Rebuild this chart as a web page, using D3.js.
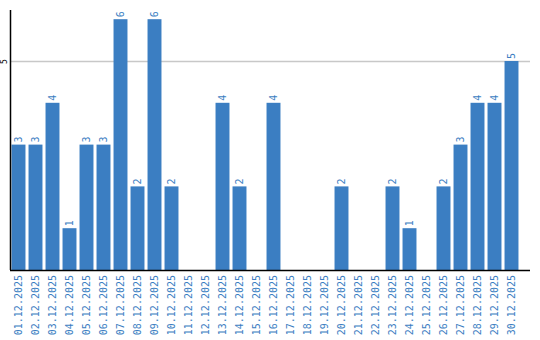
<!DOCTYPE html>
<html>
<head>
<meta charset="utf-8">
<script src="https://cdn.jsdelivr.net/npm/d3@7"></script>
<style>
  body { margin: 0; background: #fff; }
  svg text { font-family: "DejaVu Sans Mono", monospace; }
</style>
</head>
<body>
<div id="chart"></div>
<script>
var dates = ["01.12.2025", "02.12.2025", "03.12.2025", "04.12.2025", "05.12.2025",
	"06.12.2025", "07.12.2025", "08.12.2025", "09.12.2025", "10.12.2025",
	"11.12.2025", "12.12.2025", "13.12.2025", "14.12.2025", "15.12.2025",
	"16.12.2025", "17.12.2025", "18.12.2025", "19.12.2025", "20.12.2025",
	"21.12.2025", "22.12.2025", "23.12.2025", "24.12.2025", "25.12.2025",
	"26.12.2025", "27.12.2025", "28.12.2025", "29.12.2025", "30.12.2025"];
var counts = [3, 3, 4, 1, 3, 3, 6, 2, 6, 2, 0, 0, 4, 2, 0, 4, 0, 0, 0, 2, 0, 0, 2, 1, 0, 2, 3, 4, 4, 5];
var yTicks = [5];

var width = 540, height = 340;
var plotLeft = 10, plotRight = 530, plotTop = 10, plotBottom = 270;
var blue = "#3b7ec2";

var data = dates.map(function (d, i) {
	return { date: d, value: counts[i] };
});

var x = d3.scaleBand()
	.domain(dates)
	.range([plotLeft, plotLeft + 17 * dates.length])
	.paddingInner(0.18)
	.paddingOuter(0.09);

var y = d3.scaleLinear()
	.domain([0, 6.22])
	.range([plotBottom, plotTop]);

var svg = d3.select("#chart")
	.append("svg")
	.attr("width", width)
	.attr("height", height);

// grid line
svg.selectAll("line.grid")
	.data(yTicks)
	.enter().append("line")
	.attr("class", "grid")
	.attr("x1", plotLeft).attr("x2", plotRight)
	.attr("y1", function (d) { return Math.round(y(d)) + 0.5; })
	.attr("y2", function (d) { return Math.round(y(d)) + 0.5; })
	.attr("stroke", "#c8c8c8")
	.attr("stroke-width", 1.5);

// bars
svg.selectAll("rect.bar")
	.data(data)
	.enter().append("rect")
	.attr("class", "bar")
	.attr("x", function (d) { return x(d.date); })
	.attr("width", x.bandwidth())
	.attr("y", function (d) { return y(d.value); })
	.attr("height", function (d) { return plotBottom - y(d.value); })
	.attr("fill", blue);

// value labels
svg.selectAll("text.val")
	.data(data.filter(function (d) { return d.value > 0; }))
	.enter().append("text")
	.attr("class", "val")
	.attr("transform", function (d) {
		return "translate(" + (x(d.date) + x.bandwidth() / 2 + 3.5) + "," + (y(d.value) - 2) + ") rotate(-90)";
	})
	.attr("font-size", 10)
	.attr("fill", blue)
	.text(function (d) { return d.value; });

// x axis
var xAxis = d3.axisBottom(x).tickSize(0).tickPadding(0);
var gx = svg.append("g")
	.attr("transform", "translate(0," + plotBottom + ")")
	.call(xAxis);
gx.select(".domain").remove();
gx.append("line")
	.attr("x1", plotLeft).attr("x2", plotRight)
	.attr("y1", 0.5).attr("y2", 0.5)
	.attr("stroke", "#000").attr("stroke-width", 1.5);
gx.selectAll(".tick text")
	.attr("font-family", "DejaVu Sans Mono, monospace")
	.attr("font-size", 10)
	.attr("fill", blue)
	.attr("text-anchor", "end")
	.attr("dy", null)
	.attr("y", null)
	.attr("transform", "translate(3.5,5) rotate(-90)");

// y axis
var yAxis = d3.axisLeft(y)
	.tickValues(yTicks)
	.tickFormat(d3.format("d"))
	.tickSize(0)
	.tickPadding(0);
var gy = svg.append("g")
	.attr("transform", "translate(" + plotLeft + ",0)")
	.call(yAxis);
gy.select(".domain").remove();
gy.append("line")
	.attr("x1", 0.5).attr("x2", 0.5)
	.attr("y1", plotTop).attr("y2", plotBottom)
	.attr("stroke", "#000").attr("stroke-width", 1.5);
gy.selectAll(".tick text")
	.attr("font-family", "DejaVu Sans Mono, monospace")
	.attr("font-size", 8)
	.attr("fill", "#000")
	.attr("text-anchor", "middle")
	.attr("x", null)
	.attr("dy", null)
	.attr("transform", "translate(-3,0) rotate(-90)");
</script>
</body>
</html>
